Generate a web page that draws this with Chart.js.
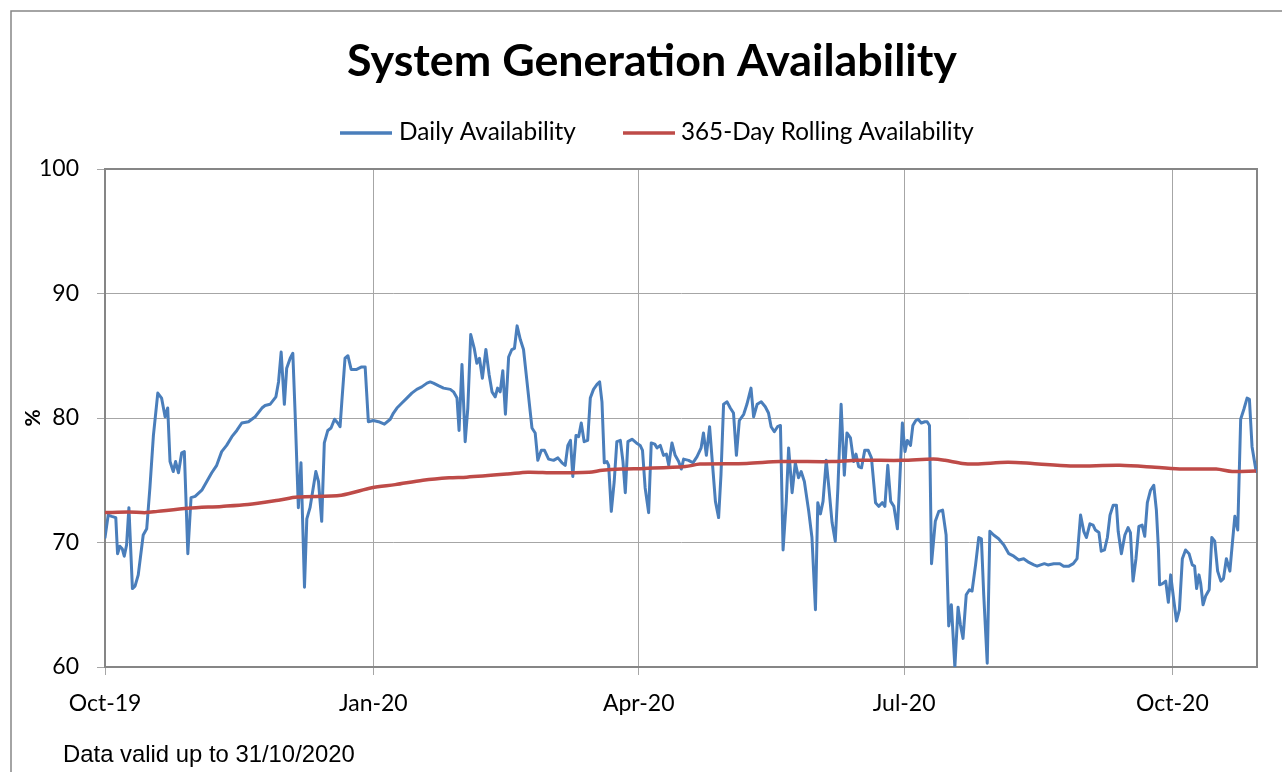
<!DOCTYPE html>
<html><head><meta charset="utf-8">
<script src="https://cdn.jsdelivr.net/npm/chart.js@4.4.1/dist/chart.umd.min.js"></script>
<style>html,body{margin:0;padding:0;background:#fff;overflow:hidden}#wrap{width:1282px;height:772px;position:relative}</style>
</head><body><div id="wrap"><canvas id="c" width="1282" height="772"></canvas></div>
<script>
// ---- text ----
const chartTitle = 'System Generation Availability';
const seriesNames = ['Daily Availability', '365-Day Rolling Availability'];
const yAxisTitle = '%';
const footNote = 'Data valid up to 31/10/2020';

// ---- axes (x = days since 1 Oct 2019) ----
const tickDays = [0, 92, 183, 274, 366];
const tickLabels = ['Oct-19', 'Jan-20', 'Apr-20', 'Jul-20', 'Oct-20'];
const yTicks = [60, 70, 80, 90, 100];

// ---- daily availability (line vertices) ----
const dailyDay = [
0,1.1,2.3,3.7,4.3,5.1,5.9,6.6,7.4,8.2,9.4,10.3,11.4,13.1,14.3,15.4,16.6,18.1,19.4,20.6,21.5,22.3,23.4,24.2,25.2,26.3,27.2,28.4,29.5,30.9,33.2,34.9,36.6,38.3,40.0,41.7,43.5,45.2,46.9,49.2,
51.5,53.8,54.9,56.6,58.6,59.5,60.4,61.5,62.3,63.5,64.4,65.2,66.3,67.2,68.4,69.2,70.3,72.3,73.2,74.3,75.2,76.4,77.5,78.7,79.8,80.6,81.2,82.3,83.3,84.4,86.3,88.0,89.2,90.3,92.0,93.8,95.8,97.8,
98.9,100.1,101.8,103.5,105.2,106.9,108.6,110.4,111.5,112.6,114.3,116.1,118.4,119.5,120.7,121.4,122.4,123.5,124.4,125.4,126.6,127.5,128.4,129.4,130.6,131.7,132.7,133.8,134.6,135.5,136.4,137.3,138.4,139.5,140.4,141.3,142.4,143.5,144.7,145.8,146.4,147.5,148.4,149.6,
150.7,152.1,153.8,155.3,156.7,157.8,158.7,159.6,160.4,161.5,162.4,163.3,164.3,165.5,166.4,167.5,168.7,169.6,170.4,171.2,172.1,172.7,173.6,174.6,175.5,176.7,177.6,178.4,179.3,180.7,182.2,183.5,184.3,185.2,186.4,187.3,188.5,189.3,190.4,191.5,192.5,193.3,194.4,195.5,196.7,197.6,198.4,
200.1,201.6,203.0,204.4,205.2,206.2,207.3,208.5,209.3,210.4,211.2,212.1,213.3,214.4,215.5,216.5,217.5,219.0,220.1,221.5,222.4,223.6,225.0,226.4,227.5,228.4,229.5,230.6,231.6,232.5,233.6,234.4,235.6,236.7,237.8,238.7,239.8,241.3,242.4,243.6,244.4,245.3,246.2,247.3,
248.2,249.3,250.4,251.3,252.4,253.5,254.4,255.6,256.7,257.5,258.4,259.4,260.5,261.7,262.8,264.2,265.3,266.5,267.4,268.4,269.4,270.5,271.7,272.4,273.4,274.3,275.1,276.2,277.0,278.0,278.8,279.9,281.1,281.9,282.7,283.4,284.7,285.9,287.2,288.4,289.3,290.2,291.4,292.5,293.3,294.2,295.3,296.4,297.3,
298.5,299.6,300.5,301.3,302.5,303.4,304.7,306.4,308.2,309.9,311.6,313.3,315.0,316.8,318.5,319.6,320.8,322.1,323.3,325.3,327.4,328.7,330.5,332.0,333.3,334.5,335.6,336.5,337.7,338.8,339.6,340.8,341.6,342.7,343.7,344.6,345.7,346.8,
347.4,348.5,349.7,350.8,351.6,352.5,353.5,354.5,355.6,356.5,357.4,358.5,359.6,360.5,361.2,361.6,362.6,363.7,364.6,365.4,366.5,367.4,368.4,369.4,370.5,371.7,372.8,373.6,374.3,375.1,375.7,376.5,377.4,378.6,379.5,380.5,381.5,382.6,383.5,384.5,385.7,386.5,387.4,388.4,389.4,390.5,391.6,392.4,393.3,394.7
];
const dailyValue = [
70.4,72.2,72.1,72.0,69.1,69.7,69.5,68.9,69.8,72.8,66.3,66.5,67.4,70.6,71.1,74.4,78.6,82.0,81.6,80.1,80.8,76.5,75.7,76.5,75.6,77.2,77.3,69.1,73.6,73.7,74.2,74.9,75.6,76.2,77.3,77.8,78.5,79.0,79.6,79.7,
80.1,80.8,81.0,81.1,81.7,82.9,85.3,81.1,84.0,84.8,85.2,80.3,72.8,76.4,66.4,71.9,72.8,75.7,74.9,71.7,78.0,79.0,79.2,79.9,79.6,79.3,81.3,84.8,85.0,83.9,83.9,84.1,84.1,79.7,79.8,79.7,79.5,79.9,
80.4,80.8,81.2,81.6,82.0,82.3,82.5,82.8,82.9,82.8,82.6,82.4,82.3,82.1,81.6,79.0,84.3,78.1,80.8,86.7,85.6,84.4,84.8,83.2,85.5,83.5,82.1,81.7,82.4,82.1,83.8,80.3,84.9,85.5,85.6,87.4,86.3,85.5,82.9,80.5,79.2,78.8,76.6,77.4,
77.4,76.7,76.6,76.8,76.4,76.2,77.8,78.2,75.3,78.6,78.5,79.6,78.1,78.2,81.6,82.3,82.7,82.9,81.3,76.4,76.5,76.2,72.5,74.9,78.1,78.2,76.5,74.0,78.1,78.3,78.0,77.8,77.4,74.4,72.4,78.0,77.9,77.6,77.8,77.0,77.1,76.2,78.0,77.0,76.5,75.9,76.7,
76.6,76.4,76.9,77.6,78.8,77.0,79.3,75.7,73.3,72.0,75.4,81.1,81.3,80.8,80.4,77.0,79.8,80.3,81.1,82.4,80.1,81.1,81.3,80.9,80.4,79.3,78.9,79.3,79.4,69.4,73.3,77.6,74.0,76.4,75.2,75.7,74.9,72.5,70.4,64.6,73.2,72.3,73.3,76.6,
74.4,71.6,70.1,74.4,81.1,75.4,78.8,78.4,76.5,77.1,76.1,76.0,77.4,77.4,76.8,73.2,72.9,73.2,72.9,76.2,73.3,72.9,71.1,74.4,79.6,77.3,78.2,77.8,79.4,79.8,79.9,79.6,79.7,79.7,79.4,68.3,71.7,72.5,72.6,70.6,63.3,65.0,60.0,64.8,63.4,62.3,65.8,66.2,66.1,
68.2,70.4,70.3,65.8,60.3,70.9,70.6,70.3,69.8,69.1,68.9,68.6,68.7,68.4,68.2,68.1,68.2,68.3,68.2,68.3,68.3,68.1,68.1,68.3,68.7,72.2,70.9,70.4,71.5,71.4,71.0,70.8,69.3,69.4,70.4,72.2,73.0,73.0,
70.9,69.1,70.6,71.2,70.8,66.9,68.7,71.3,71.4,70.5,73.2,74.2,74.6,72.6,69.5,66.6,66.7,66.9,65.2,67.4,65.3,63.7,64.6,68.7,69.4,69.1,68.2,68.1,66.3,67.4,66.7,65.0,65.7,66.2,70.4,70.1,67.7,66.9,67.1,68.7,67.7,69.8,72.1,71.0,79.9,80.7,81.6,81.5,77.7,75.7
];

// ---- 365-day rolling availability ----
const rollingDay = [0,8,14,18,28.5,40,49,59.5,66,81,91.5,99.5,109,118,124,138,145,154,166,170.5,177,185,199,204,220,231.5,249,258,273.5,284,288,294,298.5,309.5,318,331,348,360,369.5,381,386.5,394.7];
const rollingValue = [72.4,72.45,72.4,72.5,72.75,72.9,73.05,73.4,73.65,73.8,74.4,74.65,75.0,75.2,75.25,75.5,75.65,75.6,75.65,75.8,75.9,75.95,76.1,76.3,76.35,76.5,76.5,76.6,76.6,76.7,76.6,76.35,76.3,76.45,76.35,76.15,76.2,76.05,75.9,75.9,75.7,75.75];

const BLUE = '#4a7ebb';
const RED = '#be4b48';
const FRAME = '#868686';
const GRID = '#a6a6a6';
const SANS = 'Lato, "Open Sans", sans-serif';

function toPoints(xs, ys) { return xs.map((x, i) => ({ x: x, y: ys[i] })); }

function fitSize(ctx, text, weight, family, targetW) {
  ctx.font = weight + ' 40px ' + family;
  return 40 * targetW / ctx.measureText(text).width;
}

const decor = {
  id: 'decor',
  beforeDraw(chart) {
    const ctx = chart.ctx;
    ctx.save();
    ctx.fillStyle = '#fff';
    ctx.fillRect(0, 0, chart.width, chart.height);
    ctx.strokeStyle = FRAME;
    ctx.lineWidth = 1.5;
    ctx.beginPath();
    ctx.moveTo(11, chart.height + 5);
    ctx.lineTo(11, 11);
    ctx.lineTo(chart.width + 5, 11);
    ctx.stroke();
    ctx.restore();
  },
  beforeDatasetsDraw(chart) {
    const ctx = chart.ctx, a = chart.chartArea;
    ctx.save();
    ctx.strokeStyle = FRAME;
    ctx.lineWidth = 2;
    ctx.beginPath();
    ctx.moveTo(a.left - 1, a.top);
    ctx.lineTo(a.right, a.top);
    ctx.lineTo(a.right, a.bottom + 1);
    ctx.stroke();
    ctx.restore();
  },
  afterDraw(chart) {
    const ctx = chart.ctx;
    ctx.save();
    ctx.fillStyle = '#000';
    // title
    let s = fitSize(ctx, chartTitle, 'bold', SANS, 610);
    ctx.font = 'bold ' + s + 'px ' + SANS;
    ctx.textAlign = 'center';
    ctx.textBaseline = 'alphabetic';
    ctx.fillText(chartTitle, 652, 76);
    // legend
    const items = [
      { x0: 340, x1: 392, tx: 399, w: 177, c: BLUE, t: seriesNames[0] },
      { x0: 623, x1: 675, tx: 681, w: 293, c: RED, t: seriesNames[1] }
    ];
    items.forEach(it => {
      ctx.strokeStyle = it.c;
      ctx.lineWidth = 3.5;
      ctx.beginPath();
      ctx.moveTo(it.x0, 133);
      ctx.lineTo(it.x1, 133);
      ctx.stroke();
      const fs = fitSize(ctx, it.t, 'normal', SANS, it.w);
      ctx.font = 'normal ' + fs + 'px ' + SANS;
      ctx.textAlign = 'left';
      ctx.fillStyle = '#000';
      ctx.fillText(it.t, it.tx, 140);
    });
    // y title
    ctx.save();
    ctx.translate(33, 418);
    ctx.rotate(-Math.PI / 2);
    ctx.font = 'bold 21px ' + SANS;
    ctx.textAlign = 'center';
    ctx.textBaseline = 'middle';
    ctx.fillText(yAxisTitle, 0, 0);
    ctx.restore();
    // footnote
    const ff = '"Liberation Sans", Arial, sans-serif';
    const fs2 = fitSize(ctx, footNote, 'normal', ff, 292);
    ctx.font = 'normal ' + fs2 + 'px ' + ff;
    ctx.textAlign = 'left';
    ctx.fillText(footNote, 63, 762);
    ctx.restore();
  }
};

new Chart(document.getElementById('c'), {
  type: 'line',
  data: {
    datasets: [
      { label: seriesNames[0], data: toPoints(dailyDay, dailyValue), borderColor: BLUE, borderWidth: 3,
        pointRadius: 0, tension: 0, fill: false, order: 2, borderJoinStyle: 'round', borderCapStyle: 'round' },
      { label: seriesNames[1], data: toPoints(rollingDay, rollingValue), borderColor: RED, borderWidth: 3.5,
        pointRadius: 0, tension: 0.3, fill: false, order: 1, borderJoinStyle: 'round' }
    ]
  },
  options: {
    responsive: false,
    animation: false,
    devicePixelRatio: 1,
    layout: { padding: { left: 0, top: 169, right: 25, bottom: 45 } },
    plugins: { legend: { display: false }, title: { display: false }, tooltip: { enabled: false } },
    scales: {
      x: {
        type: 'linear', min: 0, max: 395,
        afterBuildTicks: sc => { sc.ticks = tickDays.map(v => ({ value: v })); },
        afterFit: sc => { sc.height = 60; },
        ticks: {
          autoSkip: false, maxRotation: 0, padding: 15, color: '#000',
          font: { family: SANS, size: 23 },
          callback: v => tickLabels[tickDays.indexOf(v)]
        },
        grid: { color: GRID, lineWidth: 1, tickLength: 8 },
        border: { color: FRAME, width: 2 }
      },
      y: {
        min: 60, max: 100,
        afterBuildTicks: sc => { sc.ticks = yTicks.map(v => ({ value: v })); },
        afterFit: sc => { sc.width = 105; },
        ticks: { padding: 18, color: '#000', font: { family: SANS, size: 23 } },
        grid: { color: GRID, lineWidth: 1, tickLength: 8 },
        border: { color: FRAME, width: 2 }
      }
    }
  },
  plugins: [decor]
});
</script>
</body></html>
